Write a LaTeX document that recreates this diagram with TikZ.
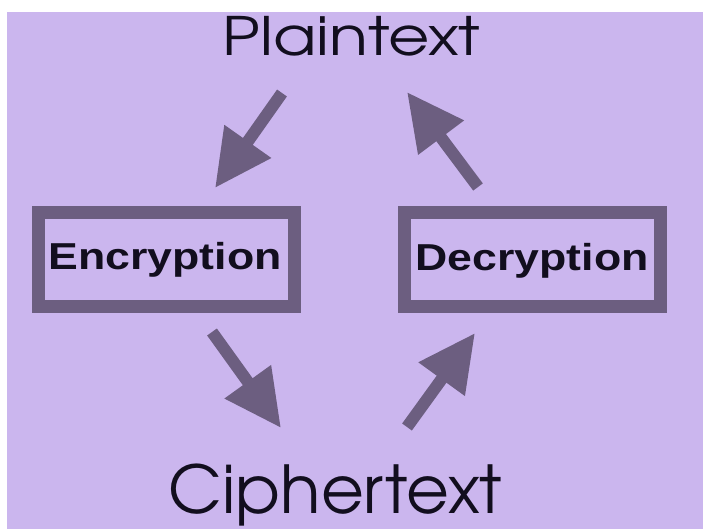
\documentclass[tikz,border=0pt]{standalone}
\usepackage{fontspec}
\setmainfont{Liberation Sans}
\newfontfamily\gothic{TeX Gyre Adventor}
\usetikzlibrary{arrows.meta}
\definecolor{lav}{RGB}{203,182,238}
\definecolor{arrc}{RGB}{108,94,128}
\definecolor{ink}{RGB}{18,14,30}
\tikzset{
  arr/.style={draw=arrc, line width=12pt, -{Triangle[length=57pt,width=54pt]}},
  procbox/.style={draw=arrc, line width=13pt},
  boxlabel/.style={anchor=base, inner sep=0pt, text=ink, font=\fontsize{37.5pt}{40pt}\selectfont\bfseries, xscale=1.19},
  biglabel/.style={anchor=base, inner sep=0pt, text=ink}
}
\begin{document}
\begin{tikzpicture}[x=1pt,y=-1pt]
\useasboundingbox (0,0) rectangle (703,529);
\fill[white] (0,0) rectangle (703,529);
\fill[lav] (7,12) rectangle (703,529);
% boxes
\draw[procbox] (38,213) rectangle (294,306);
\draw[procbox] (404,213) rectangle (660,306);
% labels
\node[biglabel, font=\gothic\fontsize{53pt}{56pt}\selectfont, xscale=1.2] (plain) at (351.5,56) {Plaintext};
\node[biglabel, font=\gothic\fontsize{66pt}{70pt}\selectfont] (cipher) at (335.5,513) {Ciphertext};
\node[boxlabel] (enc) at (165,269) {Encryption};
\node[boxlabel] (dec) at (532,270) {Decryption};
% arrow ends
\coordinate (a1s) at (282,93);  \coordinate (a1e) at (215,188);
\coordinate (a2s) at (478,187); \coordinate (a2e) at (407,92);
\coordinate (a3s) at (212,332); \coordinate (a3e) at (281,428);
\coordinate (a4s) at (407,427); \coordinate (a4e) at (475,333);
\draw[arr] (a1s) -- (a1e);
\draw[arr] (a2s) -- (a2e);
\draw[arr] (a3s) -- (a3e);
\draw[arr] (a4s) -- (a4e);
\end{tikzpicture}
\end{document}
